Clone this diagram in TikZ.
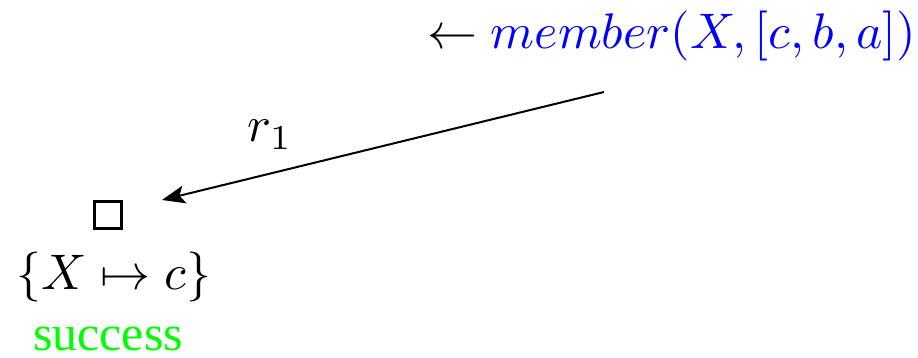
\documentclass[tikz,border=0pt]{standalone}
\usepackage{amssymb}
\usepackage[no-math]{fontspec}
\newfontfamily\timesfont{LiberationSerif-Regular.ttf}
\usetikzlibrary{arrows.meta}
\begin{document}
\begin{tikzpicture}[x=0.2pt,y=-0.2pt,
  lbl/.style={inner sep=0pt,outer sep=0pt,anchor=base},
  edge/.style={line width=0.4pt,-{Stealth[length=4.6pt,width=3.6pt,inset=1pt]}}]
\useasboundingbox (0,0) rectangle (918,358);
\node[lbl,anchor=base west] (goal) at (427,49) {$\leftarrow \textcolor{blue}{member(X,[c,b,a])}$};
\coordinate (from) at (604,92);
\coordinate (to) at (162,200);
\node[draw,line width=0.5pt,minimum size=5.4pt,inner sep=0pt] (box) at (108,215) {};
\node[lbl] (subst) at (114,290) {$\{X\mapsto c\}$};
\node[lbl,text=green] (succ) at (108,350) {\timesfont success};
\draw[edge] (from) -- (to);
\node[lbl] (r1) at (270,142) {$r_1$};
\end{tikzpicture}
\end{document}
